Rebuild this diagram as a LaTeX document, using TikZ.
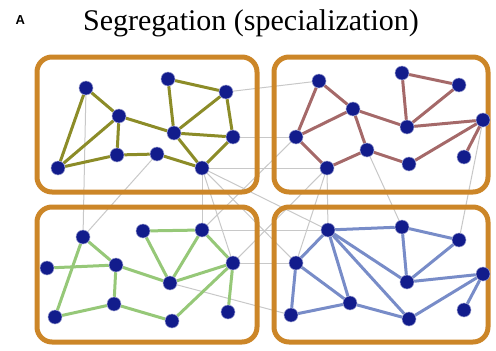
\documentclass[tikz,border=0pt]{standalone}
\usepackage{fontspec}
\setmainfont{Liberation Serif}
\setsansfont{Liberation Sans}
\usetikzlibrary{
  graphs,
}
\pgfdeclarelayer{links}
\pgfdeclarelayer{frames}
\pgfdeclarelayer{ties}
\pgfsetlayers{links,frames,ties,main}
\definecolor{frameorange}{RGB}{204,134,40}
\definecolor{unitblue}{RGB}{18,28,140}
\definecolor{olivetie}{RGB}{140,140,40}
\definecolor{rosetie}{RGB}{165,105,105}
\definecolor{greentie}{RGB}{150,200,120}
\definecolor{bluetie}{RGB}{120,140,200}
\definecolor{linkgray}{RGB}{200,200,200}
\tikzset{
  region/.style={
    draw=frameorange,
    line width=5pt,
    rounded corners=15pt
  },
  unit/.style={
    circle,
    fill=unitblue,
    draw=white!60!unitblue,
    line width=0.5pt,
    inner sep=0pt,
    minimum size=14pt
  },
  link/.style={
    draw=linkgray,
    line width=1pt
  },
  tie/.style={
    draw=#1,
    line width=3pt
  },
}
\begin{document}
\begin{tikzpicture}[x=1pt,y=-1pt]
  \useasboundingbox (0,0) rectangle (496,351);

  \node[anchor=base west, font=\sffamily\bfseries\fontsize{13}{15}\selectfont]
    (panel) at (12,24) {A};
  \node[anchor=base, font=\fontsize{30}{34}\selectfont]
    (title) at (251,30) {Segregation (specialization)};

  % modules
  \foreach \n/\x/\y in {a1/86/88, a2/168/79, a3/226/92, a4/119/116, a5/174/133,
    a6/233/137, a7/58/168, a8/117/155, a9/157/154, a10/202/168}
    \node[unit] (\n) at (\x,\y) {};
  \foreach \n/\x/\y in {b1/319/81, b2/402/73, b3/459/85, b4/353/109, b5/407/127,
    b6/483/120, b7/296/137, b8/367/150, b9/327/168, b10/409/164, b11/464/157}
    \node[unit] (\n) at (\x,\y) {};
  \foreach \n/\x/\y in {c1/83/237, c2/143/231, c3/202/230, c4/47/268, c5/116/265,
    c6/170/283, c7/233/263, c8/55/317, c9/114/304, c10/172/321, c11/228/312}
    \node[unit] (\n) at (\x,\y) {};
  \foreach \n/\x/\y in {d1/328/230, d2/402/227, d3/459/240, d4/296/263, d5/407/282,
    d6/483/274, d7/291/315, d8/350/303, d9/409/319, d10/464/310}
    \node[unit] (\n) at (\x,\y) {};

  \begin{pgfonlayer}{frames}
    \draw[region] (37,57) rectangle (257,192);
    \draw[region] (274,57) rectangle (488,192);
    \draw[region] (37,207) rectangle (257,342);
    \draw[region] (274,207) rectangle (488,342);
  \end{pgfonlayer}

  \begin{pgfonlayer}{ties}
    \graph [use existing nodes, edges={tie=olivetie}] {
      a1 -- {a4, a7}; a4 -- {a7, a8, a5}; a7 -- a8 -- a9 -- a10;
      a5 -- {a10, a6, a2, a3}; a2 -- a3 -- a6 -- a10;
    };
    \graph [use existing nodes, edges={tie=rosetie}] {
      b1 -- {b4, b7}; b4 -- {b7, b5, b8}; b7 -- b9 -- b8 -- b10 -- b6;
      b6 -- {b5, b11}; b5 -- {b2, b3}; b2 -- b3;
    };
    \graph [use existing nodes, edges={tie=greentie}] {
      c1 -- {c5, c8}; c4 -- c5; c5 -- {c9, c6}; c8 -- c9 -- c10;
      c2 -- {c6, c3}; c3 -- {c6, c7}; c6 -- c7; c7 -- {c10, c11};
    };
    \graph [use existing nodes, edges={tie=bluetie}] {
      d1 -- {d2, d4, d8, d9, d5}; d2 -- {d3, d5}; d3 -- d5;
      d4 -- {d7, d8}; d7 -- d8 -- d9 -- d6; d5 -- d6 -- d10;
    };
  \end{pgfonlayer}

  % links between modules
  \begin{pgfonlayer}{links}
    \graph [use existing nodes, edges=link] {
      {a6, a10} -- {b7, b9, c3, c7, d1, d4};
      {b7, b9} -- {c3, c7, d1, d4};
      {c3, c7} -- {d1, d4};
      a1 -- c1; a9 -- c1; a3 -- b1;
      b8 -- d2; b6 -- d3; c6 -- d7;
    };
  \end{pgfonlayer}
\end{tikzpicture}
\end{document}
